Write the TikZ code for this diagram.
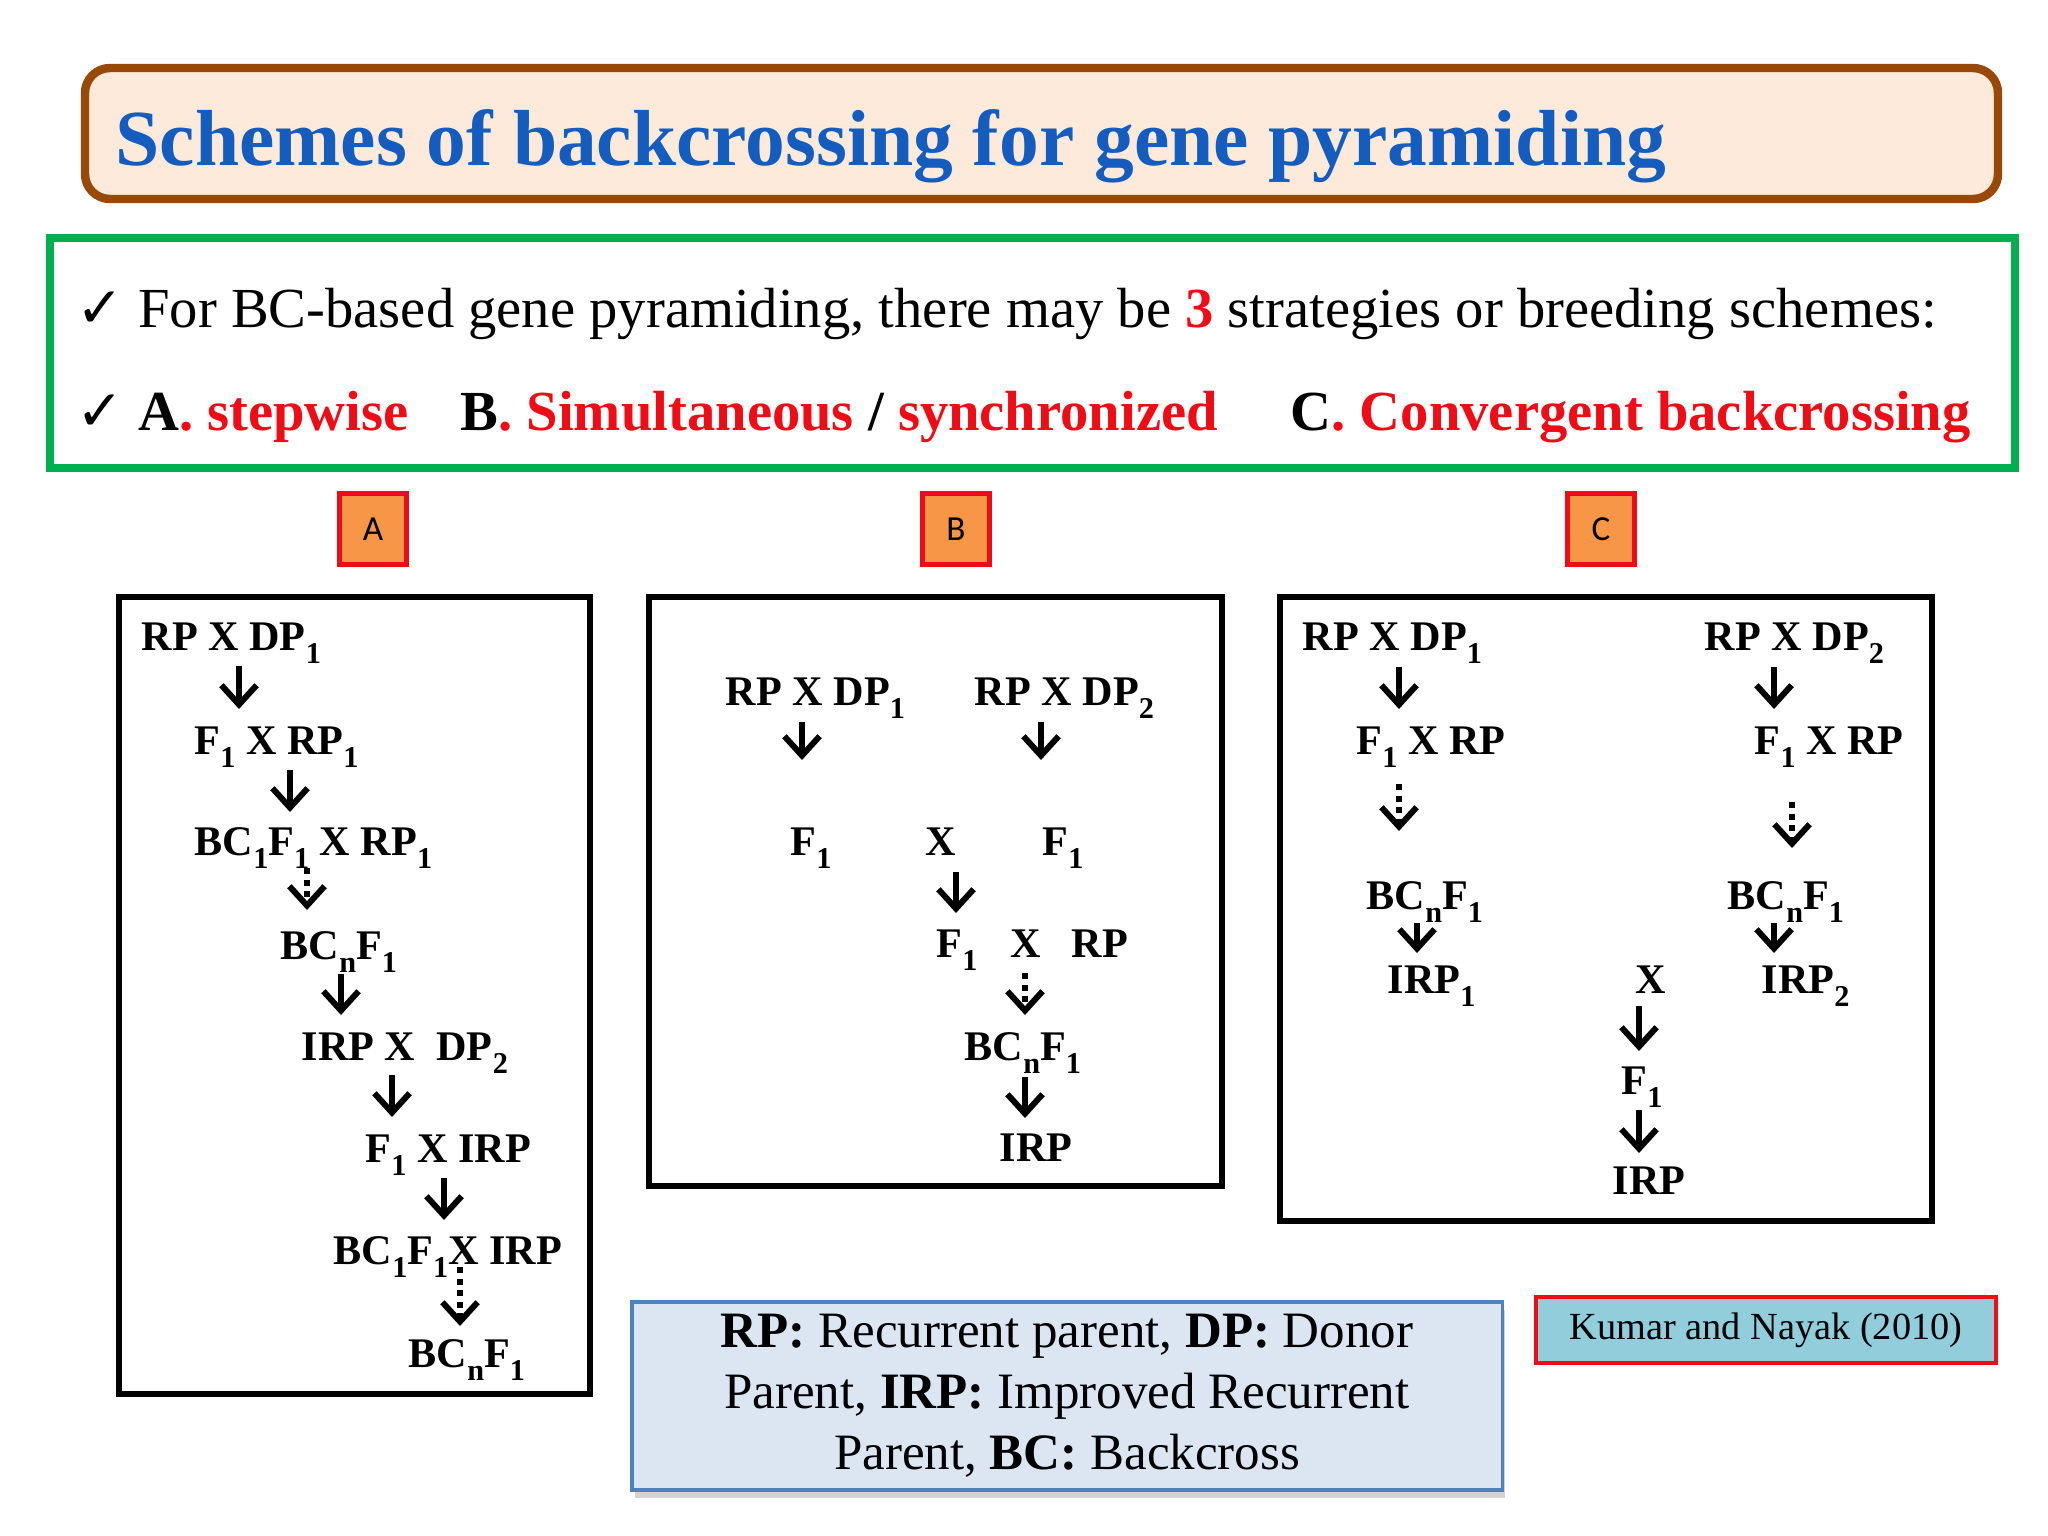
\documentclass[tikz,border=0pt]{standalone}
\usepackage{fontspec}
\setmainfont{Liberation Serif}
\setsansfont{Carlito}
\newfontfamily\checkfont{DejaVu Sans}
\usepackage{xcolor}
\usetikzlibrary{arrows.meta, shadows}

\definecolor{headbrown}{RGB}{152,72,7}
\definecolor{headfill}{RGB}{253,234,218}
\definecolor{headblue}{RGB}{20,92,190}
\definecolor{framegreen}{RGB}{0,176,80}
\definecolor{schemered}{RGB}{238,12,22}
\definecolor{tagorange}{RGB}{247,150,70}
\definecolor{keyfill}{RGB}{220,230,242}
\definecolor{keyblue}{RGB}{79,129,189}
\definecolor{citefill}{RGB}{146,205,220}

\newcommand{\hl}[1]{{\color{schemered}#1}}
\newcommand{\low}[1]{\raisebox{-0.32em}{\fontsize{8.6}{10}\selectfont #1}}

\begin{document}
\begin{tikzpicture}[
    x=0.01cm, y=-0.01cm,
    cross/.style={font=\fontsize{12}{14}\selectfont\bfseries, inner sep=0pt, anchor=base west},
    line/.style={font=\fontsize{16.1}{19}\selectfont, inner sep=0pt, anchor=base west},
    down/.style={line width=1.7pt, -{Straight Barb[length=5.5pt, width=10pt]}},
    dots/.style={down, dash pattern=on 1.7pt off 1.6pt},
    panel/.style={draw, line width=1.5pt},
    tag/.style={rectangle, draw=schemered, fill=tagorange, line width=1.3pt, minimum width=0.67cm, minimum height=0.71cm, inner sep=0pt, font=\sffamily\fontsize{10}{12}\selectfont}
]
    \useasboundingbox (0,0) rectangle (2048,1536);

    % heading
    \draw[headbrown, fill=headfill, line width=2.4pt, rounded corners=0.25cm] (85,68) rectangle (1998,199);
    \node[inner sep=0pt, anchor=base west, text=headblue, font=\fontsize{22.6}{27}\selectfont\bfseries] (head) at (115,165) {Schemes of backcrossing for gene pyramiding};

    % strategies
    \draw[framegreen, line width=2.3pt] (50,238) rectangle (2015,468);
    \node[line] (intro) at (76,327) {{\checkfont ✓} For BC-based gene pyramiding, there may be \hl{\textbf{3}} strategies or breeding schemes:};
    \node[line, font=\fontsize{16.1}{19}\selectfont\bfseries] (sA) at (76,430) {{\checkfont\mdseries ✓} A\hl{. stepwise}};
    \node[line, font=\fontsize{16.1}{19}\selectfont\bfseries] (sB) at (460,430) {B\hl{. Simultaneous} / \hl{synchronized}};
    \node[line, font=\fontsize{16.1}{19}\selectfont\bfseries] (sC) at (1290,430) {C\hl{. Convergent backcrossing}};

    \node[tag] (tA) at (373,529) {A};
    \node[tag] (tB) at (956,529) {B};
    \node[tag] (tC) at (1601,529) {C};

    % scheme A
    \draw[panel] (119,597) rectangle (590,1394);
    \node[cross] (a1) at (141,650) {RP X DP\low{1}};
    \node[cross] (a2) at (194,754) {F\low{1} X RP\low{1}};
    \node[cross] (a3) at (194,855) {BC\low{1}F\low{1} X RP\low{1}};
    \node[cross] (a4) at (280,959) {BC\low{n}F\low{1}};
    \node[cross] (a5) at (301,1060) {IRP X~~DP\low{2}};
    \node[cross] (a6) at (365,1162) {F\low{1} X IRP};
    \node[cross] (a7) at (333,1264) {BC\low{1}F\low{1}X IRP};
    \node[cross] (a8) at (408,1367) {BC\low{n}F\low{1}};
    \draw[down] (a1.base -| 239,0) ++(0,16) -- ++(0,43);
    \draw[down] (a2.base -| 290,0) ++(0,16) -- ++(0,42);
    \draw[dots] (a3.base -| 307,0) ++(0,13) -- ++(0,42);
    \draw[down] (a4.base -| 341,0) ++(0,15) -- ++(0,41);
    \draw[down] (a5.base -| 392,0) ++(0,15) -- ++(0,42);
    \draw[down] (a6.base -| 444,0) ++(0,16) -- ++(0,42);
    \draw[dots] (a7.base -| 460,0) ++(0,3) -- ++(0,59);

    % scheme B
    \draw[panel] (649,597) rectangle (1222,1186);
    \node[cross] (b1) at (725,705) {RP X DP\low{1}};
    \node[cross] (b2) at (974,705) {RP X DP\low{2}};
    \node[cross] (b3) at (790,855) {F\low{1}};
    \node[cross] (bx) at (925,855) {X};
    \node[cross] (b4) at (1042,855) {F\low{1}};
    \node[cross] (b5) at (936,957) {F\low{1}};
    \node[cross] (by) at (1010,957) {X};
    \node[cross] (b6) at (1071,957) {RP};
    \node[cross] (b7) at (964,1060) {BC\low{n}F\low{1}};
    \node[cross] (b8) at (999,1161) {IRP};
    \draw[down] (b1.base -| 802,0) ++(0,17) -- ++(0,38);
    \draw[down] (b2.base -| 1041,0) ++(0,17) -- ++(0,38);
    \draw[down] (bx.base -| 956,0) ++(0,17) -- ++(0,41);
    \draw[dots] (by.base -| 1025,0) ++(0,16) -- ++(0,42);
    \draw[down] (b7.base -| 1025,0) ++(0,17) -- ++(0,41);

    % scheme C
    \draw[panel] (1280,597) rectangle (1932,1221);
    \node[cross] (c1) at (1302,650) {RP X DP\low{1}};
    \node[cross] (c2) at (1704,650) {RP X DP\low{2}};
    \node[cross] (c3) at (1356,754) {F\low{1} X RP};
    \node[cross] (c4) at (1754,754) {F\low{1} X RP};
    \node[cross] (c5) at (1366,909) {BC\low{n}F\low{1}};
    \node[cross] (c6) at (1727,909) {BC\low{n}F\low{1}};
    \node[cross] (c7) at (1387,993) {IRP\low{1}};
    \node[cross] (cx) at (1635,993) {X};
    \node[cross] (c8) at (1761,993) {IRP\low{2}};
    \node[cross] (c9) at (1621,1094) {F\low{1}};
    \node[cross] (c10) at (1612,1194) {IRP};
    \draw[down] (c1.base -| 1399,0) ++(0,17) -- ++(0,42);
    \draw[down] (c2.base -| 1774,0) ++(0,17) -- ++(0,42);
    \draw[dots] (c3.base -| 1399,0) ++(0,30) -- ++(0,47);
    \draw[dots] (c4.base -| 1792,0) ++(0,48) -- ++(0,46);
    \draw[down] (c5.base -| 1417,0) ++(0,14) -- ++(0,30);
    \draw[down] (c6.base -| 1774,0) ++(0,14) -- ++(0,30);
    \draw[down] (cx.base -| 1639,0) ++(0,13) -- ++(0,45);
    \draw[down] (c9.base -| 1639,0) ++(0,16) -- ++(0,43);

    % key and source
    \node[draw=keyblue, fill=keyfill, line width=1pt, minimum width=8.70cm, minimum height=1.88cm, align=center,
          font=\fontsize{14.5}{17.4}\selectfont, drop shadow={shadow xshift=0.03cm, shadow yshift=-0.08cm, opacity=0.35}]
          (key) at (1067,1396) {\textbf{RP:} Recurrent parent, \textbf{DP:} Donor\\ Parent, \textbf{IRP:} Improved Recurrent\\ Parent, \textbf{BC:} Backcross};
    \node[draw=schemered, fill=citefill, line width=1pt, minimum width=4.60cm, minimum height=0.66cm,
          font=\fontsize{10.9}{13}\selectfont] (cite) at (1766,1330) {Kumar and Nayak (2010)};
\end{tikzpicture}
\end{document}
